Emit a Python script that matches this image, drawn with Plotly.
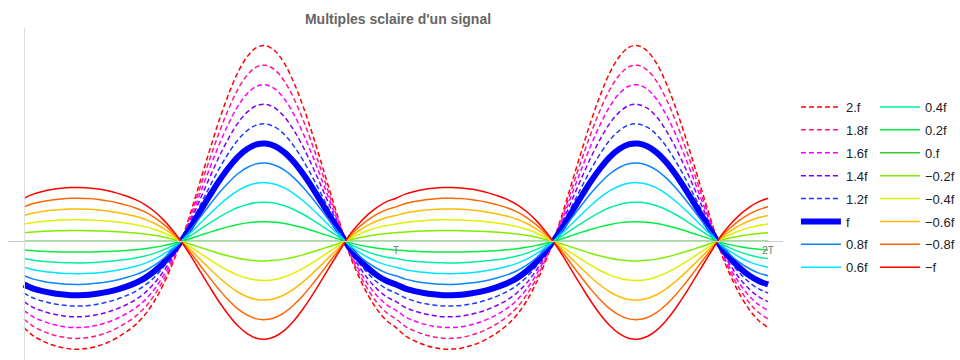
import plotly.graph_objects as go

# sample times, in periods T (step T/40 over two periods)
t_values = [round(i * 0.025, 3) for i in range(81)]

# one period of the base signal f (max of f = 1)
period_f = [
    -0.44, -0.482, -0.508, -0.528, -0.541, -0.549, -0.55, -0.545, -0.533, -0.516,
    -0.492, -0.462, -0.425, -0.375, -0.307, -0.219, -0.111, 0.014, 0.158, 0.315,
    0.47, 0.619, 0.751, 0.862, 0.942, 0.989, 0.998, 0.971, 0.908, 0.812,
    0.69, 0.549, 0.396, 0.239, 0.087, -0.066, -0.18, -0.275, -0.35, -0.405,
]
# the signal is periodic: two periods plus the closing point
signal_f = period_f + period_f + period_f[:1]

multipliers = [2.0, 1.8, 1.6, 1.4, 1.2, 1.0, 0.8, 0.6, 0.4, 0.2, 0.0,
               -0.2, -0.4, -0.6, -0.8, -1.0]
labels = ["2.f", "1.8f", "1.6f", "1.4f", "1.2f", "f", "0.8f", "0.6f",
          "0.4f", "0.2f", "0.f", "\u22120.2f", "\u22120.4f", "\u22120.6f",
          "\u22120.8f", "\u2212f"]
colors = ["#ff0000", "#ff1a8c", "#ff00ff", "#7f00ff", "#1a3dff", "#0000ff",
          "#0a84ff", "#00e5ff", "#00f0a0", "#00ee44", "#33cc33", "#80ee00",
          "#e0f000", "#ffbb00", "#ff6600", "#ff0000"]

x_ticks = [1, 2]
x_tick_text = ["T", "2T"]

x_min, x_max = -0.0428, 2.040
y_min, y_max = -1.211, 2.177

fig = go.Figure()
for i, (k, name, col) in enumerate(zip(multipliers, labels, colors)):
    if k > 1:
        line = dict(color=col, width=1.5, dash="5px,3px")
    elif k == 1:
        line = dict(color=col, width=6)
    else:
        line = dict(color=col, width=1.5)
    fig.add_trace(go.Scatter(
        x=t_values, y=[k * v for v in signal_f], name=name, mode="lines",
        line=dict(shape="spline", smoothing=1, **line),
        legend="legend" if i < 8 else "legend2",
        legendgroup=name, hoverinfo="skip"))

legend_style = dict(font=dict(family="Liberation Sans, Arial", size=13, color="#222"),
                    tracegroupgap=3, itemwidth=40, bgcolor="rgba(0,0,0,0)",
                    xanchor="left", yanchor="top")

fig.update_layout(
    width=960, height=360,
    margin=dict(l=8, r=173, t=28, b=0),
    paper_bgcolor="white", plot_bgcolor="white",
    title=dict(text="<b>Multiples sclaire d'un signal</b>", x=(398 / 960), xanchor="center",
               y=1 - 19 / 360, yanchor="middle",
               font=dict(family="Liberation Sans, Arial", size=14, color="#666")),
    xaxis=dict(range=[x_min, x_max], showgrid=False, zeroline=False,
               showline=True, linecolor="#ccc", linewidth=1,
               anchor="free", position=(0 - y_min) / (y_max - y_min),
               tickvals=x_ticks, ticktext=x_tick_text, ticks="",
               tickfont=dict(family="Liberation Sans, Arial", size=10, color="#777")),
    yaxis=dict(range=[y_min, y_max], showgrid=False, zeroline=False,
               showline=True, linecolor="#ddd", linewidth=1,
               anchor="free", position=(0 - x_min) / (x_max - x_min),
               showticklabels=False, ticks=""),
    legend=dict(x=(800 - 8) / 779, y=1 - (92 - 28) / 332, **legend_style),
    legend2=dict(x=(880 - 8) / 779, y=1 - (92 - 28) / 332, **legend_style),
    showlegend=True,
)

fig.write_html("out.html", config={"displayModeBar": False},
               post_script="document.body.style.margin='0';"
                           "document.body.style.overflow='hidden';")
